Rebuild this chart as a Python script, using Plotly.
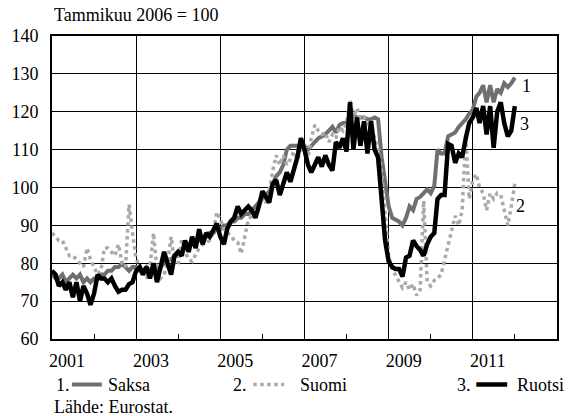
import pandas as pd
import plotly.graph_objects as go

# ---- data (monthly, Jan 2001 onward; index Jan 2006 = 100) ----
saksa = [
    77, 76, 76, 77, 75, 76, 77, 76, 77, 75, 76, 75,
    76, 76, 77, 77, 78, 78, 79, 79, 80, 79, 78, 79,
    79, 78, 78, 79, 78, 79, 78, 79, 80, 81, 81, 82,
    82, 83, 84, 85, 85, 86, 86, 87, 87, 88, 88, 89,
    89, 90, 90, 91, 91, 92, 92, 93, 93, 94, 95, 96,
    97, 98, 99, 101, 103, 104, 106, 110, 111, 111, 111, 111,
    111, 110, 111, 112, 113, 113.5, 114, 115, 116, 114.5, 116.5, 117,
    117, 119, 119, 118.5, 118.5, 118.5, 118, 118, 118.5, 118, 108, 101,
    95, 92, 91.5, 91, 90, 92, 95, 94, 97, 97.5, 98.5, 99.5,
    98.5, 100.5, 110, 109, 109, 113.5, 114, 114.5, 116, 117, 118, 119.5,
    120.5, 124, 125, 127, 122.5, 127, 122.5, 126, 125, 127.5, 126.5, 127.5, 129,
]
suomi = [
    88, 87, 86, 86, 84, 82, 82, 81, 80, 79, 84, 81,
    79, 77, 78, 84, 84, 83, 82, 85, 80, 79, 95.5, 88,
    81, 79.5, 78, 76, 79, 88, 78, 76, 77, 80, 87, 80,
    79.5, 86.5, 83, 81, 80.5, 82.5, 84, 85, 85.5, 86, 88, 93.5,
    91.5, 89, 88, 87.5, 86, 85.5, 82.5, 87.5, 91.5, 92.5, 93, 95,
    97, 96, 99, 104.5, 108.5, 106, 108.5, 106, 107.5, 109.5, 107.5, 110,
    111, 108, 113, 116.5, 115, 114, 114.5, 112, 114, 113, 116, 115,
    117, 123, 118.5, 121, 118, 118.5, 117, 115.5, 113, 110, 104, 92,
    82, 78.5, 77, 75, 73.5, 75, 73, 74.5, 71.5, 73, 96.5, 75,
    74, 75.5, 76, 77, 81, 85, 89, 92.5, 90, 94, 114, 97,
    102, 103.5, 100, 98.5, 94, 98.5, 97, 98.5, 98, 94, 90, 95, 101,
]
ruotsi = [
    78, 77, 74, 75, 73, 75, 71, 75, 70, 74, 72, 69,
    72, 77, 76, 76, 75, 76, 74, 72.5, 73, 73, 74.5, 75,
    78, 79, 77, 79, 76, 80, 75, 79, 83, 80, 77, 82,
    83, 82, 86, 83, 87, 84, 89, 85, 88, 87, 88.5, 90.5,
    87, 85, 89, 91, 92, 95, 93, 94, 95, 94, 92, 95,
    99, 97.5, 96, 101, 102, 98, 101, 104, 101.5, 104.5, 108, 113,
    110, 106, 104, 106, 108, 105.5, 108.5, 106, 104.5, 112, 110.5, 113,
    109.5, 122.5, 110, 118.5, 111, 117.5, 109, 117.5, 110, 108, 97, 86,
    80.5, 79, 78.5, 78.5, 76.5, 81.5, 82, 86, 84.5, 83.5, 82, 85,
    87, 88, 97, 98, 98, 111.5, 111, 106.5, 109, 108, 113, 117,
    118.5, 121, 117, 121.5, 114, 121.5, 110.5, 120, 122.5, 117, 113.5, 115, 121.5,
]
series_names = ["Saksa", "Suomi", "Ruotsi"]
series_nums = ["1", "2", "3"]
tick_years = ["2001", "2003", "2005", "2007", "2009", "2011"]
y_ticks = [60, 70, 80, 90, 100, 110, 120, 130, 140]

dates = pd.date_range("2001-01-01", periods=len(saksa), freq="MS")

FONT = "Liberation Serif, Times New Roman, Times, DejaVu Serif, serif"
C_SAKSA = "#6f6f6f"
C_SUOMI = "#a9a9a9"
C_RUOTSI = "#000000"

# geometry helpers (plot area 52..559 x, 36..339 y in a 570x416 canvas)
L, R, T, B = 52, 559, 36, 339
def px(x):
    return (x - L) / (R - L)
def py(y):
    return (B - y) / (B - T)

fig = go.Figure()
fig.add_trace(go.Scatter(x=dates, y=saksa, mode="lines", name=series_names[0],
                         line=dict(color=C_SAKSA, width=4)))
fig.add_trace(go.Scatter(x=dates, y=suomi, mode="lines", name=series_names[1],
                         line=dict(color=C_SUOMI, width=3.5, dash="dot")))
fig.add_trace(go.Scatter(x=dates, y=ruotsi, mode="lines", name=series_names[2],
                         line=dict(color=C_RUOTSI, width=4.5)))

major = pd.date_range("2001-01-01", "2013-01-01", freq="24MS")
minor = pd.date_range("2002-01-01", "2012-01-01", freq="24MS")

fig.update_xaxes(
    range=[pd.Timestamp("2001-01-01"), pd.Timestamp("2013-01-01")],
    tickvals=list(major[:len(tick_years)]), ticktext=tick_years,
    ticks="", showgrid=True, gridcolor="black", gridwidth=1,
    showline=True, mirror=True, linecolor="black", linewidth=2,
    ticklabelshift=15, ticklabelstandoff=4,
    tickfont=dict(family=FONT, size=18, color="black"),
    minor=dict(tickvals=list(minor), ticks="inside", ticklen=5,
               tickcolor="black", tickwidth=1, showgrid=False),
    zeroline=False,
)
fig.update_yaxes(
    range=[60, 140], tickvals=y_ticks, ticks="",
    showgrid=True, gridcolor="black", gridwidth=1,
    showline=True, mirror=True, linecolor="black", linewidth=2,
    ticklabelstandoff=8,
    tickfont=dict(family=FONT, size=18, color="black"),
    zeroline=False,
)

ann_font = dict(family=FONT, size=18, color="black")
annotations = [
    dict(text="Tammikuu 2006 = 100", x=px(52), y=py(15), xanchor="left", yanchor="middle"),
    # end-of-line labels
    dict(text=series_nums[0], x=px(528.5), y=py(86), xanchor="center", yanchor="middle"),
    dict(text=series_nums[2], x=px(526), y=py(124), xanchor="center", yanchor="middle"),
    dict(text=series_nums[1], x=px(522.5), y=py(206), xanchor="center", yanchor="middle"),
    # legend
    dict(text=series_nums[0] + ".", x=px(54), y=py(385), xanchor="left", yanchor="middle"),
    dict(text=series_names[0], x=px(106), y=py(385), xanchor="left", yanchor="middle"),
    dict(text=series_nums[1] + ".", x=px(232), y=py(385), xanchor="left", yanchor="middle"),
    dict(text=series_names[1], x=px(299), y=py(385), xanchor="left", yanchor="middle"),
    dict(text=series_nums[2] + ".", x=px(457), y=py(385), xanchor="left", yanchor="middle"),
    dict(text=series_names[2], x=px(517), y=py(385), xanchor="left", yanchor="middle"),
    dict(text="Lähde: Eurostat.", x=px(52), y=py(406.5), xanchor="left", yanchor="middle"),
]
for a in annotations:
    a.update(xref="paper", yref="paper", showarrow=False, font=ann_font)

shapes = [
    dict(type="line", x0=px(72), x1=px(102), y0=py(384.5), y1=py(384.5),
         line=dict(color=C_SAKSA, width=4)),
    dict(type="line", x0=px(254), x1=px(285), y0=py(384.5), y1=py(384.5),
         line=dict(color=C_SUOMI, width=3.5, dash="dot")),
    dict(type="line", x0=px(478), x1=px(509), y0=py(384.5), y1=py(384.5),
         line=dict(color=C_RUOTSI, width=4.5)),
]
for s in shapes:
    s.update(xref="paper", yref="paper")

fig.update_layout(
    width=570, height=416,
    margin=dict(l=L, r=570 - R, t=T, b=416 - B, pad=0),
    paper_bgcolor="white", plot_bgcolor="white",
    showlegend=False,
    annotations=annotations, shapes=shapes,
    font=dict(family=FONT, size=18, color="black"),
)

fig.write_html(
    "out.html",
    config={"displayModeBar": False, "staticPlot": True},
    post_script="document.body.style.margin='0';document.body.style.padding='0';document.body.style.overflow='hidden';",
)
